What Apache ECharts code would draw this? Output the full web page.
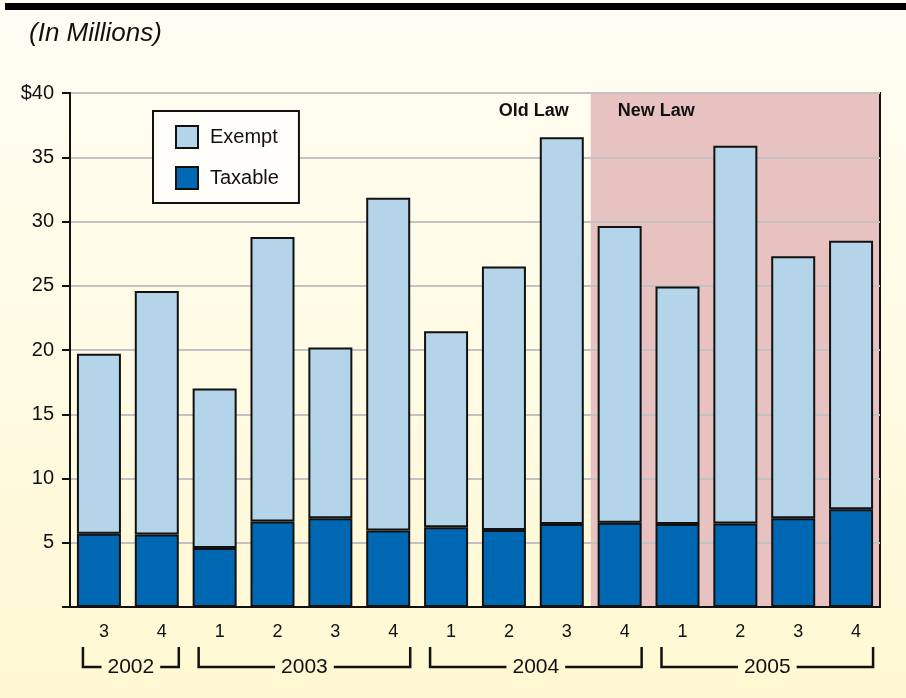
<!DOCTYPE html>
<html>
<head>
<meta charset="utf-8">
<title>Exempt and Taxable Amounts by Quarter</title>
<script src="https://cdn.jsdelivr.net/npm/echarts@6/dist/echarts.min.js"></script>
<style>
  html, body { margin: 0; padding: 0; background: #ffffff; }
  #chart { width: 906px; height: 698px; }
</style>
</head>
<body>
<div id="chart"></div>
<script>
// Quarterly amounts, in millions of dollars
const categories = ['2002 Q3', '2002 Q4', '2003 Q1', '2003 Q2', '2003 Q3', '2003 Q4',
                    '2004 Q1', '2004 Q2', '2004 Q3', '2004 Q4', '2005 Q1', '2005 Q2', '2005 Q3', '2005 Q4'];
const quarterLabels = ['3', '4', '1', '2', '3', '4', '1', '2', '3', '4', '1', '2', '3', '4'];
const quarterYears = ['2002', '2002', '2003', '2003', '2003', '2003',
                      '2004', '2004', '2004', '2004', '2005', '2005', '2005', '2005'];
const taxable = [5.7, 5.65, 4.6, 6.65, 6.9, 5.95, 6.2, 6.0, 6.45, 6.55, 6.45, 6.5, 6.9, 7.6];
const exempt  = [14.0, 18.95, 12.4, 22.15, 13.3, 25.9, 15.25, 20.5, 30.1, 23.1, 18.5, 29.4, 20.4, 20.9];
const yTicks = [0, 5, 10, 15, 20, 25, 30, 35, 40];
const newLawStart = categories.indexOf('2004 Q4');

const FONT = '"Liberation Sans", Arial, Helvetica, sans-serif';
const INK = '#111111';

const chart = echarts.init(document.getElementById('chart'), null, { renderer: 'canvas' });

const option = {
  animation: false,
  backgroundColor: {
    type: 'linear', x: 0, y: 0, x2: 0, y2: 1,
    colorStops: [
      { offset: 0, color: '#fffdf4' },
      { offset: 0.5, color: '#fffbe4' },
      { offset: 1, color: '#fff8d2' }
    ]
  },
  grid: {
    left: 70, right: 26, top: 93, bottom: 91,
    show: true, borderColor: INK, borderWidth: 2, backgroundColor: 'transparent'
  },
  legend: {
    data: ['Exempt', 'Taxable'],
    orient: 'vertical',
    left: 153, top: 111,
    padding: [14, 20, 13, 22],
    itemWidth: 22, itemHeight: 22, itemGap: 17,
    icon: 'rect',
    backgroundColor: '#fffef8',
    borderColor: INK, borderWidth: 2,
    itemStyle: { borderColor: INK, borderWidth: 2 },
    textStyle: { fontFamily: FONT, fontSize: 20, color: INK, padding: [0, 0, 0, 7] },
    selectedMode: false
  },
  xAxis: [
    {
      type: 'category',
      data: categories,
      boundaryGap: true,
      axisLine: { show: true, lineStyle: { color: INK, width: 2 } },
      axisTick: { show: false },
      splitLine: { show: false },
      axisLabel: {
        margin: 16,
        padding: [0, 0, 0, 10],
        fontFamily: FONT, fontSize: 18, color: INK,
        formatter: (v, i) => quarterLabels[i]
      },
      z: 3
    },
    { type: 'value', min: 0, max: categories.length, show: false }
  ],
  yAxis: {
    type: 'value',
    min: yTicks[0], max: yTicks[yTicks.length - 1], interval: 5,
    axisLine: { show: true, lineStyle: { color: INK, width: 2 } },
    axisTick: { show: true, length: 8, lineStyle: { color: INK, width: 2 } },
    axisLabel: {
      margin: 16,
      fontFamily: FONT, fontSize: 20, color: INK,
      formatter: v => (v === yTicks[0] ? '' : (v === yTicks[yTicks.length - 1] ? '$' + v : String(v)))
    },
    splitLine: { show: true, lineStyle: { color: '#c2c2c2', width: 2 } }
  },
  series: [
    {
      name: 'Taxable', type: 'bar', stack: 'total', data: taxable,
      barWidth: 44,
      itemStyle: { color: '#0068b3', borderColor: INK, borderWidth: 2 },
      z: 3
    },
    {
      name: 'Exempt', type: 'bar', stack: 'total', data: exempt,
      barWidth: 44,
      itemStyle: { color: '#b4d4e9', borderColor: INK, borderWidth: 2 },
      z: 3
    },
    {
      name: 'lawPeriod', type: 'line', xAxisIndex: 1, yAxisIndex: 0, data: [],
      silent: true, z: -1,
      markArea: {
        silent: true, z: -1,
        itemStyle: { color: '#e8c2c0' },
        data: [[{ xAxis: newLawStart }, { xAxis: categories.length }]]
      }
    }
  ]
};

chart.setOption(option);

// Decorations placed from the axis scales: year brackets, period captions, header.
function textWidth(str, font) {
  const ctx = document.createElement('canvas').getContext('2d');
  ctx.font = font;
  return ctx.measureText(str).width;
}

const y0 = chart.convertToPixel({ yAxisIndex: 0 }, yTicks[0]);
const yTop = chart.convertToPixel({ yAxisIndex: 0 }, yTicks[yTicks.length - 1]);
const cx = i => chart.convertToPixel({ xAxisIndex: 0 }, categories[i]);

const graphics = [];

// header rule and unit caption
graphics.push({
  type: 'rect', left: 5, top: 3, shape: { width: 901, height: 7 },
  style: { fill: '#000000' }, silent: true
});
graphics.push({
  type: 'text', x: 29, y: 34,
  style: { text: '(In Millions)', font: 'italic 26px ' + FONT, fill: INK, textVerticalAlign: 'middle' },
  silent: true
});

// year brackets under the quarter labels
const yearFont = '21px ' + FONT;
const groups = [];
quarterYears.forEach((yr, i) => {
  const g = groups[groups.length - 1];
  if (g && g.year === yr) g.last = i; else groups.push({ year: yr, first: i, last: i });
});
const lineY = y0 + 60;
const tickTop = y0 + 40;
groups.forEach(g => {
  const left = cx(g.first) - 16;
  const right = cx(g.last) + 22;
  const mid = (left + right) / 2;
  const half = textWidth(g.year, yearFont) / 2 + 6;
  const ls = { stroke: INK, lineWidth: 2.5 };
  graphics.push({ type: 'polyline', shape: { points: [[left, tickTop], [left, lineY], [mid - half, lineY]] }, style: ls, silent: true });
  graphics.push({ type: 'polyline', shape: { points: [[mid + half, lineY], [right, lineY], [right, tickTop]] }, style: ls, silent: true });
  graphics.push({
    type: 'text', x: mid, y: lineY,
    style: { text: g.year, font: yearFont, fill: INK, textAlign: 'center', textVerticalAlign: 'middle' },
    silent: true
  });
});

// period captions either side of the law change
const bx = chart.convertToPixel({ xAxisIndex: 1 }, newLawStart);
const capFont = 'bold 18px ' + FONT;
graphics.push({
  type: 'text', x: bx - 22, y: yTop + 18,
  style: { text: 'Old Law', font: capFont, fill: INK, textAlign: 'right', textVerticalAlign: 'middle' },
  silent: true
});
graphics.push({
  type: 'text', x: bx + 27, y: yTop + 18,
  style: { text: 'New Law', font: capFont, fill: INK, textAlign: 'left', textVerticalAlign: 'middle' },
  silent: true
});

chart.setOption({ graphic: { elements: graphics } });
</script>
</body>
</html>
